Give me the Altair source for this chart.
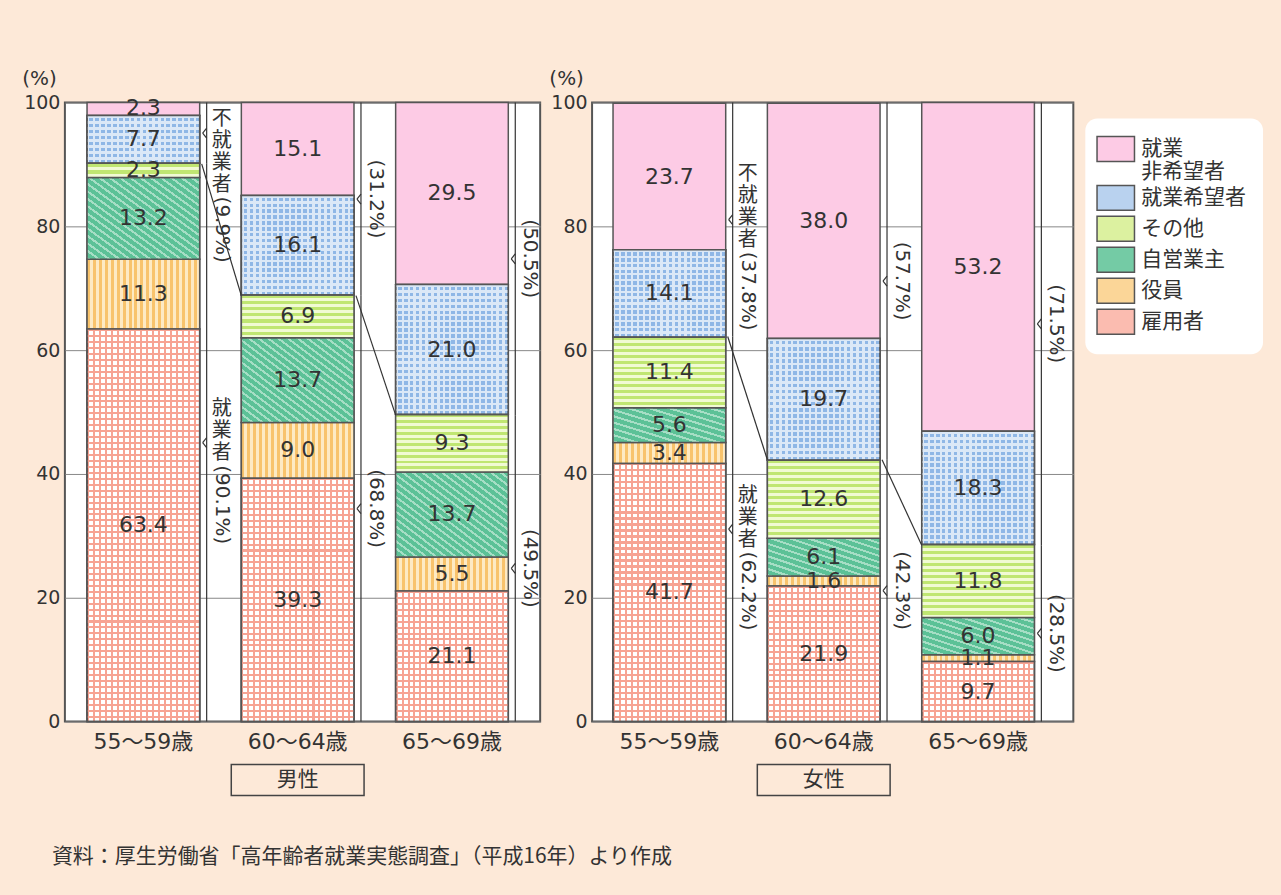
import math
import altair as alt
import pandas as pd

# ---------------- data ----------------
ages = ["55〜59歳", "60〜64歳", "65〜69歳"]
categories = ["雇用者", "役員", "自営業主", "その他", "就業希望者", "就業非希望者"]  # bottom -> top
colors = ["#fbbcb0", "#fbd698", "#74cba5", "#dcf1a0", "#b9d2ef", "#fdcbe5"]

men_koyo = [63.4, 39.3, 21.1]
men_yakuin = [11.3, 9.0, 5.5]
men_jiei = [13.2, 13.7, 13.7]
men_sonota = [2.3, 6.9, 9.3]
men_kibo = [7.7, 16.1, 21.0]
men_hikibo = [2.3, 15.1, 29.5]
men_shugyo = [90.1, 68.8, 49.5]
men_fushugyo = [9.9, 31.2, 50.5]

women_koyo = [41.7, 21.9, 9.7]
women_yakuin = [3.4, 1.6, 1.1]
women_jiei = [5.6, 6.1, 6.0]
women_sonota = [11.4, 12.6, 11.8]
women_kibo = [14.1, 19.7, 18.3]
women_hikibo = [23.7, 38.0, 53.2]
women_shugyo = [62.2, 42.3, 28.5]
women_fushugyo = [37.8, 57.7, 71.5]

source_text = "資料：厚生労働省「高年齢者就業実態調査」（平成16年）より作成"

# ---------------- styles ----------------
FONT_NUM = "DejaVu Sans, Noto Sans CJK JP"
FONT_JP = "Noto Sans CJK JP"
BG = "#fde9d8"
INK = "#333333"
EDGE = "#555555"
PLOT_H = 620
PX_PER_UNIT = PLOT_H / 100
HALF_BAND = 56.4
BAND_W = 2 * HALF_BAND
LINE_H = 22
PERIOD = 6.0
CLEAR = "rgba(255,255,255,0)"

# pattern colours
SALMON, WHITE = "#f7a393", "#ffffff"
BLUE_DOT, BLUE_PALE = "#8fb7e6", "#dbe8f7"
GREEN, GREEN_PALE = "#c0e672", "#f1fad4"
ORANGE, ORANGE_PALE = "#f8c36c", "#fdeac4"
TEAL, TEAL_LINE = "#5cc197", "#a6dec5"

X_AXIS = alt.Axis(title=None, labelAngle=0, labelFont=FONT_NUM, labelFontSize=22,
                  labelColor=INK, labelPadding=10, ticks=False, domain=False, grid=False)
Y_AXIS = alt.Axis(values=[0, 20, 40, 60, 80, 100], title="(%)", titleAngle=0,
                  titleX=-26, titleY=-24, titleAlign="center", titleBaseline="middle",
                  titleFont=FONT_NUM, titleFontSize=20, titleFontWeight="normal",
                  titleColor=INK, labelFont=FONT_NUM, labelFontSize=19,
                  labelColor=INK, labelPadding=5, ticks=False, domain=False,
                  grid=True, gridColor="#888888", gridWidth=1)


def stripe_stops(n, ca, cb, frac_a):
    out = []
    for k in range(n):
        s, m, e = k / n, (k + frac_a) / n, (k + 1) / n
        out += [{"offset": round(s, 5), "color": ca}, {"offset": round(m, 5), "color": ca},
                {"offset": round(m, 5), "color": cb}, {"offset": round(e, 5), "color": cb}]
    return out


def gradient(n, ca, cb, frac_a, x1, y1, x2, y2):
    return {"gradient": "linear", "x1": x1, "y1": y1, "x2": x2, "y2": y2,
            "stops": stripe_stops(max(1, n), ca, cb, frac_a)}


def make_panel(values, shugyo, fushugyo, sex, width, pad_outer, align, with_source):
    rows = []
    for ci, cat in enumerate(categories):
        for ai, age in enumerate(ages):
            rows.append({"age": age, "cat": cat, "ord": ci, "value": values[ci][ai]})
    df = pd.DataFrame(rows)

    xsc = alt.Scale(domain=ages, paddingInner=0.27, paddingOuter=pad_outer, align=align)
    ysc = alt.Scale(domain=[0, 100], nice=False, clamp=True)

    def xch(**kw):
        return alt.X("age:N", scale=xsc, sort=ages, axis=X_AXIS, **kw)

    def ych(field):
        return alt.Y(field, scale=ysc, axis=Y_AXIS)

    base = alt.Chart(df).transform_stack(
        stack="value", as_=["y0", "y1"], groupby=["age"],
        sort=[alt.SortField("ord", order="ascending")],
    )

    bars = base.mark_bar(stroke=EDGE, strokeWidth=1.5).encode(
        x=xch(),
        y=ych("y0:Q"),
        y2="y1:Q",
        color=alt.Color(
            "cat:N",
            scale=alt.Scale(domain=categories[::-1], range=colors[::-1]),
            legend=alt.Legend(
                title=None, orient="none", legendX=1022, legendY=16,
                fillColor="white", cornerRadius=12, padding=17,
                symbolType="M-1.5,-1L1.5,-1L1.5,1L-1.5,1Z", symbolSize=625,
                symbolStrokeColor=EDGE, symbolStrokeWidth=1.5, symbolOpacity=1,
                labelFont=FONT_JP, labelFontSize=21, labelColor=INK, labelOffset=12,
                labelLimit=300, rowPadding=0,
                labelExpr="datum.label == '就業非希望者' ? ['就業', '非希望者'] : datum.label",
            ),
        ),
    )

    # ---- pattern overlays (drawn through the same scales) ----
    def overlay(expr, fill):
        return base.transform_filter(expr).mark_bar(
            fill=fill, stroke=EDGE, strokeWidth=1.5
        ).encode(x=xch(), y=ych("y0:Q"), y2="y1:Q")

    nx = round(BAND_W / PERIOD)
    overlays = [
        overlay("datum.cat == '雇用者'", gradient(nx, SALMON, WHITE, 0.34, 0, 0, 1, 0)),
        overlay("datum.cat == '就業希望者'", gradient(nx, BLUE_PALE, BLUE_DOT, 0.4, 0, 0, 1, 0)),
        overlay("datum.cat == '役員'", gradient(nx, ORANGE, ORANGE_PALE, 0.5, 0, 0, 1, 0)),
    ]
    for ci, cat in enumerate(categories):
        for ai, age in enumerate(ages):
            h = values[ci][ai] * PX_PER_UNIT
            ny = round(h / PERIOD)
            expr = f"datum.cat == '{cat}' && datum.age == '{age}'"
            if cat == "雇用者":
                overlays.append(overlay(expr, gradient(ny, SALMON, CLEAR, 0.34, 0, 0, 0, 1)))
            elif cat == "就業希望者":
                overlays.append(overlay(expr, gradient(ny, BLUE_PALE, CLEAR, 0.4, 0, 0, 0, 1)))
            elif cat == "その他":
                overlays.append(overlay(expr, gradient(ny, GREEN, GREEN_PALE, 0.5, 0, 0, 0, 1)))
            elif cat == "自営業主":
                nd = round(2 * BAND_W * h / (math.hypot(BAND_W, h) * PERIOD))
                overlays.append(overlay(expr, gradient(nd, TEAL_LINE, TEAL, 0.34, 0, 1, 1, 0)))

    values_txt = base.transform_calculate(mid="(datum.y0 + datum.y1) / 2").mark_text(
        font=FONT_NUM, fontSize=22, color=INK, baseline="middle"
    ).encode(x=xch(), y=ych("mid:Q"), text=alt.Text("value:Q", format=".1f"))

    # brace annotations
    ann_rows = []
    for i, age in enumerate(ages):
        ann_rows.append({"age": age, "lo": shugyo[i], "hi": 100, "pct": fushugyo[i],
                         "kanji": "\n".join("不就業者"), "n": 4, "first": i == 0, "lift": 9})
        ann_rows.append({"age": age, "lo": 0, "hi": shugyo[i], "pct": shugyo[i],
                         "kanji": "\n".join("就業者"), "n": 3, "first": i == 0, "lift": 7})
    ann = pd.DataFrame(ann_rows)
    abase = alt.Chart(ann).transform_calculate(
        mid="(datum.lo + datum.hi) / 2",
        label="'(' + format(datum.pct, '.1f') + '%)'",
    )

    brace = abase.mark_rule(color=INK, strokeWidth=1.2, xOffset=HALF_BAND + 7).encode(
        x=xch(), y=ych("lo:Q"), y2="hi:Q"
    )
    nub_up = abase.mark_rule(color=INK, strokeWidth=1.2, xOffset=HALF_BAND + 3,
                             x2Offset=HALF_BAND + 7, y2Offset=-5).encode(
        x=xch(), x2="age:N", y=ych("mid:Q"), y2="mid:Q"
    )
    nub_dn = abase.mark_rule(color=INK, strokeWidth=1.2, xOffset=HALF_BAND + 3,
                             x2Offset=HALF_BAND + 7, y2Offset=5).encode(
        x=xch(), x2="age:N", y=ych("mid:Q"), y2="mid:Q"
    )

    first = abase.transform_filter("datum.first").transform_calculate(
        top="min((datum.lo + datum.hi) / 2 + datum.lift, 99)"
    ).transform_calculate(
        ptop=f"datum.top - datum.n * {LINE_H} / {PX_PER_UNIT}"
    )
    kanji_txt = first.mark_text(font=FONT_JP, fontSize=20, color=INK, lineBreak="\n",
                                lineHeight=LINE_H, baseline="top", align="center",
                                xOffset=HALF_BAND + 22).encode(
        x=xch(), y=ych("top:Q"), text="kanji:N"
    )
    first_pct = first.mark_text(font=FONT_NUM, fontSize=20, color=INK, angle=90,
                                align="left", baseline="middle",
                                xOffset=HALF_BAND + 22).encode(
        x=xch(), y=ych("ptop:Q"), text="label:N"
    )
    other_pct = abase.transform_filter("!datum.first").mark_text(
        font=FONT_NUM, fontSize=20, color=INK, angle=90, align="center",
        baseline="middle", xOffset=HALF_BAND + 22
    ).encode(x=xch(), y=ych("mid:Q"), text="label:N")

    conn = pd.DataFrame({"age": ages[:-1], "next": ages[1:],
                         "ya": shugyo[:-1], "yb": shugyo[1:]})
    connectors = alt.Chart(conn).mark_rule(color=INK, strokeWidth=1.2, xOffset=2).encode(
        x=alt.X("age:N", scale=xsc, sort=ages, axis=X_AXIS, bandPosition=1),
        x2=alt.X2("next:N", bandPosition=0),
        y=ych("ya:Q"), y2="yb:Q",
    )

    sexdf = pd.DataFrame({"sex": [sex], "age": [ages[1]]})
    box = alt.Chart(sexdf).mark_bar(width=133, fill=BG, stroke="#444444", strokeWidth=1.5).encode(
        x=xch(), y=alt.value(663), y2=alt.value(694)
    )
    box_txt = alt.Chart(sexdf).mark_text(font=FONT_JP, fontSize=21, color=INK,
                                         baseline="middle").encode(
        x=xch(), y=alt.value(679), text="sex:N"
    )

    layers = [bars] + overlays + [values_txt, brace, nub_up, nub_dn, kanji_txt, first_pct,
                                  other_pct, connectors, box, box_txt]
    if with_source:
        src = alt.Chart(pd.DataFrame({"src": [source_text]})).mark_text(
            font=FONT_JP, fontSize=21, color=INK, align="left", baseline="middle"
        ).encode(x=alt.value(-13), y=alt.value(756), text="src:N")
        layers.append(src)
    return alt.layer(*layers).properties(width=width, height=PLOT_H)


men_values = [men_koyo, men_yakuin, men_jiei, men_sonota, men_kibo, men_hikibo]
women_values = [women_koyo, women_yakuin, women_jiei, women_sonota, women_kibo, women_hikibo]

left = make_panel(men_values, men_shugyo, men_fushugyo, "男性", 476, 0.175, 0.41, True)
right = make_panel(women_values, women_shugyo, women_fushugyo, "女性", 482, 0.194, 0.35, False)

chart = alt.hconcat(left, right, spacing=52, bounds="flush").resolve_scale(
    x="independent", y="independent", color="shared"
).properties(
    background=BG, padding={"left": 20, "top": 67, "right": 18, "bottom": 26}
).configure_view(stroke=EDGE, strokeWidth=2, fill="white")

chart.save("out.html", embed_options={"renderer": "svg", "actions": False})
